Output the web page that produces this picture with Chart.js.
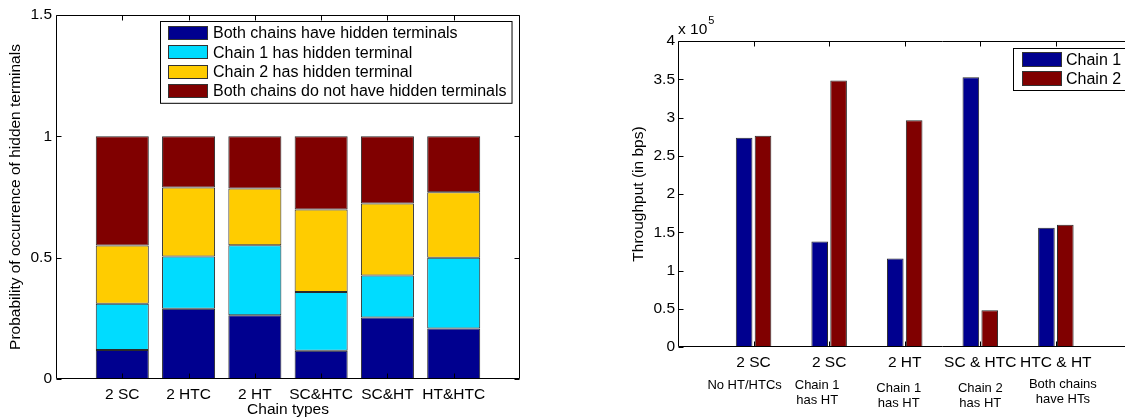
<!DOCTYPE html>
<html>
<head>
<meta charset="utf-8">
<script src="https://cdn.jsdelivr.net/npm/chart.js@4.4.1/dist/chart.umd.min.js"></script>
<style>
  html, body { margin: 0; padding: 0; background: #fff; overflow: hidden; }
  body { width: 1125px; height: 420px; position: relative; }
  canvas { position: absolute; top: 0; }
  #probChart { left: 0; }
  #throughputChart { left: 560px; }
</style>
</head>
<body>
<canvas id="probChart" width="560" height="420"></canvas>
<canvas id="throughputChart" width="660" height="420"></canvas>
<script>
// left chart: stacked probabilities per chain type
const chainTypes = ['2 SC', '2 HTC', '2 HT', 'SC&HTC', 'SC&HT', 'HT&HTC'];
const bothHidden = [0.12, 0.29, 0.263, 0.116, 0.253, 0.208];
const chain1Hidden = [0.19, 0.215, 0.288, 0.243, 0.174, 0.292];
const chain2Hidden = [0.24, 0.284, 0.234, 0.34, 0.296, 0.27];
const noneHidden = [0.45, 0.211, 0.215, 0.301, 0.277, 0.23];
const probTicks = [0, 0.5, 1, 1.5];

// right chart: throughput per scenario
const scenarios = ['2 SC', '2 SC', '2 HT', 'SC & HTC', 'HTC & HT'];
const scenarioNotes = [['No HT/HTCs'], ['Chain 1', 'has HT'], ['Chain 1', 'has HT'], ['Chain 2', 'has HT'], ['Both chains', 'have HTs']];
const chain1Throughput = [273400, 138000, 115800, 352600, 155900];
const chain2Throughput = [276000, 348300, 296500, 47900, 159800];
const throughputTicks = [0, 50000, 100000, 150000, 200000, 250000, 300000, 350000, 400000];

const FONT = '"Liberation Sans", Arial, Helvetica, sans-serif';
Chart.defaults.font.family = FONT;
Chart.defaults.font.size = 15.5;
Chart.defaults.color = '#000';

const toPoints = values => values.map((v, i) => ({ x: i + 1, y: v }));

// box round the plot with inward tick marks, as matlab draws it
const matlabBox = {
    id: 'matlabBox',
    afterDatasetsDraw(chart, args, opts) {
        const { ctx, chartArea: a } = chart;
        const x = chart.scales.x, y = chart.scales.y;
        const L = Math.round(a.left) + 0.5, R = Math.round(a.right) - 0.5;
        const T = Math.round(a.top) + 0.5, B = Math.round(a.bottom) - 0.5;
        ctx.save();
        ctx.strokeStyle = '#000';
        ctx.lineWidth = 1;
        ctx.beginPath();
        ctx.rect(L, T, R - L, B - T);
        for (let i = 1; i <= opts.count; i++) {
            const px = Math.round(x.getPixelForValue(i)) + 0.5;
            ctx.moveTo(px, B); ctx.lineTo(px, B - opts.tickLen);
            ctx.moveTo(px, T); ctx.lineTo(px, T + opts.tickLen);
        }
        y.ticks.forEach(t => {
            const py = Math.round(y.getPixelForValue(t.value)) + 0.5;
            ctx.moveTo(L, py); ctx.lineTo(L + opts.tickLen, py);
            ctx.moveTo(R, py); ctx.lineTo(R - opts.tickLen, py);
        });
        ctx.stroke();
        ctx.restore();
    }
};

const boxLegend = {
    id: 'boxLegend',
    afterDraw(chart, args, o) {
        const ctx = chart.ctx;
        const sets = chart.data.datasets;
        ctx.save();
        ctx.font = o.font;
        const textW = Math.max(...sets.map(d => ctx.measureText(d.label).width));
        const w = o.pad + o.swatchW + o.gap + textW + o.padRight;
        const h = o.rowH * sets.length + o.padTop * 2;
        ctx.fillStyle = '#fff';
        ctx.fillRect(o.x, o.y, w, h);
        ctx.strokeStyle = '#000';
        ctx.lineWidth = 1;
        ctx.strokeRect(o.x + 0.5, o.y + 0.5, w, h);
        sets.forEach((d, i) => {
            const cy = o.y + o.padTop + o.rowH * (i + 0.5);
            ctx.fillStyle = d.backgroundColor;
            ctx.fillRect(o.x + o.pad, Math.round(cy - o.swatchH / 2), o.swatchW, o.swatchH);
            ctx.strokeStyle = '#333';
            ctx.strokeRect(o.x + o.pad + 0.5, Math.round(cy - o.swatchH / 2) + 0.5, o.swatchW - 1, o.swatchH - 1);
            ctx.fillStyle = '#000';
            ctx.textBaseline = 'middle';
            ctx.textAlign = 'left';
            ctx.fillText(d.label, o.x + o.pad + o.swatchW + o.gap, cy + 1);
        });
        ctx.restore();
    }
};

new Chart(document.getElementById('probChart'), {
    type: 'bar',
    data: {
        datasets: [
            { label: 'Both chains have hidden terminals', data: toPoints(bothHidden), backgroundColor: '#00008f' },
            { label: 'Chain 1 has hidden terminal', data: toPoints(chain1Hidden), backgroundColor: '#00dcff' },
            { label: 'Chain 2 has hidden terminal', data: toPoints(chain2Hidden), backgroundColor: '#ffcc00' },
            { label: 'Both chains do not have hidden terminals', data: toPoints(noneHidden), backgroundColor: '#800000' }
        ]
    },
    options: {
        responsive: false,
        animation: false,
        events: [],
        layout: { padding: { left: 0, right: 40, top: 15, bottom: 0 } },
        datasets: { bar: { barPercentage: 0.8, categoryPercentage: 1, borderColor: '#2a2a2a', borderWidth: 1, borderSkipped: false } },
        scales: {
            x: {
                type: 'linear', min: 0, max: chainTypes.length + 1, stacked: true, offset: false,
                grid: { display: false, drawTicks: false, offset: false },
                border: { display: false },
                ticks: { stepSize: 1, autoSkip: false, maxRotation: 0, padding: 6, callback: v => chainTypes[v - 1] || '' },
                title: { display: true, text: 'Chain types', padding: { top: 0, bottom: 1 } },
                afterFit: s => { s.height = 41; }
            },
            y: {
                min: 0, max: 1.5, stacked: true,
                grid: { display: false, drawTicks: false },
                border: { display: false },
                afterBuildTicks: s => { s.ticks = probTicks.map(v => ({ value: v })); },
                ticks: { padding: 4, callback: v => String(v) },
                title: { display: true, text: 'Probability of occurrence of hidden terminals', padding: { top: 6, bottom: 0 } },
                afterFit: s => { s.width = 56; }
            }
        },
        plugins: {
            legend: { display: false },
            tooltip: { enabled: false },
            matlabBox: { count: chainTypes.length, tickLen: 5 },
            boxLegend: { x: 160, y: 21, pad: 8, padTop: 2.3, padRight: 5, rowH: 19.3, swatchW: 40, swatchH: 14, gap: 5, font: '16px ' + FONT }
        }
    },
    plugins: [matlabBox, boxLegend]
});

// scale factor and two-line notes under each scenario
const throughputExtras = {
    id: 'throughputExtras',
    afterDraw(chart, args, o) {
        const { ctx, chartArea: a } = chart;
        const x = chart.scales.x;
        ctx.save();
        ctx.fillStyle = '#000';
        ctx.textAlign = 'left';
        ctx.textBaseline = 'middle';
        ctx.font = '15.5px ' + FONT;
        ctx.fillText('x 10', a.left, a.top - 11);
        const w = ctx.measureText('x 10').width;
        ctx.font = '11px ' + FONT;
        ctx.fillText('5', a.left + w + 1, a.top - 20);
        ctx.font = '13px ' + FONT;
        ctx.textAlign = 'center';
        scenarioNotes.forEach((lines, i) => {
            const cx = x.getPixelForValue(i + 1) + o.dx[i];
            lines.forEach((t, j) => ctx.fillText(t, cx, o.top + o.dy[i] + j * 15));
        });
        ctx.restore();
    }
};

new Chart(document.getElementById('throughputChart'), {
    type: 'bar',
    data: {
        datasets: [
            { label: 'Chain 1', data: toPoints(chain1Throughput), backgroundColor: '#00008f' },
            { label: 'Chain 2', data: toPoints(chain2Throughput), backgroundColor: '#800000' }
        ]
    },
    options: {
        responsive: false,
        animation: false,
        events: [],
        layout: { padding: { left: 0, right: 13, top: 41, bottom: 0 } },
        datasets: { bar: { barPercentage: 0.88, categoryPercentage: 0.5, borderColor: '#2a2a2a', borderWidth: 1, borderSkipped: false } },
        scales: {
            x: {
                type: 'linear', min: 0, max: 7, offset: false,
                grid: { display: false, drawTicks: false, offset: false },
                border: { display: false },
                ticks: { stepSize: 1, autoSkip: false, maxRotation: 0, padding: 6, callback: v => scenarios[v - 1] || '' },
                afterFit: s => { s.height = 73; }
            },
            y: {
                min: 0, max: 400000,
                grid: { display: false, drawTicks: false },
                border: { display: false },
                afterBuildTicks: s => { s.ticks = throughputTicks.map(v => ({ value: v })); },
                ticks: { padding: 3, callback: v => String(v / 100000) },
                title: { display: true, text: 'Throughput (in bps)', padding: { top: 69, bottom: 0 } },
                afterFit: s => { s.width = 118; }
            }
        },
        plugins: {
            legend: { display: false },
            tooltip: { enabled: false },
            matlabBox: { count: scenarios.length, tickLen: 5 },
            boxLegend: { x: 453, y: 48, pad: 9, padTop: 2, padRight: 6, rowH: 19, swatchW: 40, swatchH: 15, gap: 4, font: '16px ' + FONT },
            throughputExtras: { top: 385, dx: [-9, -12, -6, 0, 7], dy: [0, 0, 3, 3, -1] }
        }
    },
    plugins: [matlabBox, boxLegend, throughputExtras]
});
</script>
</body>
</html>
